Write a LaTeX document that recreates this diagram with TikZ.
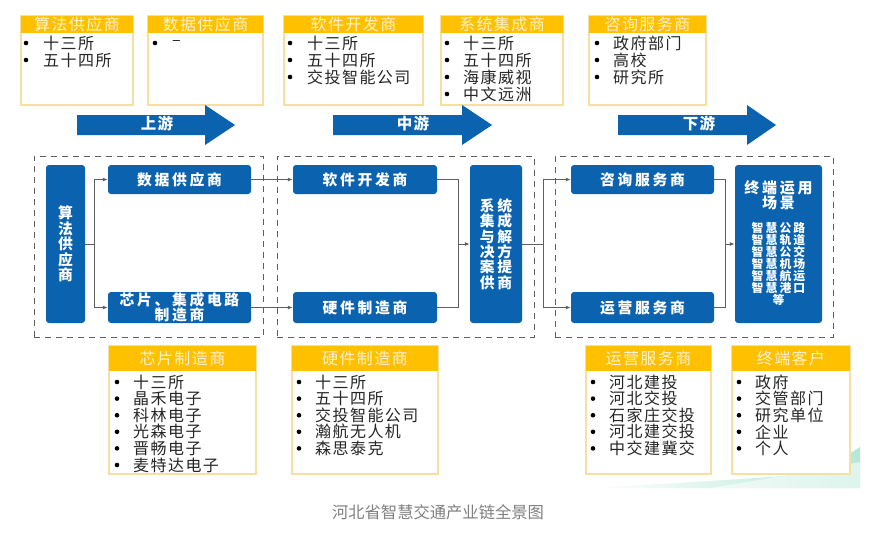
\documentclass[tikz,border=0pt]{standalone}
\usepackage{fontspec}
\usetikzlibrary{arrows.meta}
\setmainfont{Noto Sans CJK SC}
\newfontfamily\cjk[LetterSpace=9]{Noto Sans CJK SC}
\newfontfamily\cjkw[LetterSpace=18]{Noto Sans CJK SC}
\newfontfamily\cjkplain{Noto Sans CJK SC}
\definecolor{bluebox}{HTML}{0B62AE}
\definecolor{goldhead}{HTML}{FFC000}
\definecolor{goldline}{HTML}{F6DFA0}
\definecolor{linegray}{HTML}{5F5F5F}
\definecolor{headtxt}{HTML}{FFF2CC}
\definecolor{wedge}{HTML}{B5E8D6}
\newcommand{\fs}[2]{\fontsize{#1}{#2}\selectfont\lineskiplimit=-30pt\relax}
\tikzset{
  blueb/.style={fill=bluebox,rounded corners=3pt,inner sep=0pt,text=white,align=center,font=\cjkw\bfseries\fs{14.8}{15.4}},
  goldb/.style={draw=goldline,line width=1.5pt,fill=white,inner sep=0pt},
  headb/.style={fill=goldhead,inner sep=0pt,text=headtxt,font=\cjk\fs{16}{16}},
  itemt/.style={anchor=west,inner sep=0pt,text=black!85,font=\cjk\fs{16}{16}},
  dashb/.style={draw=linegray,line width=.9pt,dash pattern=on 6pt off 5pt,inner sep=0pt},
  conn/.style={draw=linegray,line width=1pt},
  arr/.style={conn,-{Latex[length=5pt,width=4pt]}},
  flow/.style={fill=bluebox,draw=none},
  flowt/.style={inner sep=0pt,text=white,font=\cjk\bfseries\fs{15.5}{16}}
}
% name, x1, y1, x2, y2, style, text
\newcommand{\bxn}[7]{\node[#6,minimum width={(#4-#2)*1pt},minimum height={(#5-#3)*1pt}] (#1) at ({(#2+#4)/2},{(#3+#5)/2}) {#7};}
% name,x1,y1,x2,yhead,y2,title
\newcommand{\card}[7]{%
  \bxn{#1}{#2}{#3}{#4}{#6}{goldb}{}
  \bxn{#1h}{#2}{#3}{#4}{#5}{headb}{#7}}
% name,bulletx,textx,y0,pitch,list
\newcommand{\items}[6]{%
  \foreach \t [count=\i from 0] in {#6}{
    \pgfmathsetmacro{\yy}{#4+\i*#5}
    \fill[black] (#2,\yy) circle (2.3pt);
    \node[itemt] (#1i\i) at (#3,\yy) {\t};
  }}
\begin{document}
\begin{tikzpicture}[x=1pt,y=-1pt]
\useasboundingbox (0,0) rectangle (880,535);
\fill[white] (0,0) rectangle (880,535);
% green wedge
\shade[left color=white,right color=wedge]
  (590,488) .. controls (660,484) and (730,480) .. (783,476) .. controls (815,470) and (840,460) .. (860,447) -- (860,488) -- cycle;
\fill[white,opacity=.55] (710,488) -- (783,476) -- (860,462) -- (860,488) -- cycle;
% dashed groups
\bxn{g1}{34}{156}{263}{337}{dashb}{}
\bxn{g2}{277}{156}{534}{337}{dashb}{}
\bxn{g3}{555}{156}{833}{337}{dashb}{}
% top cards
\card{c1}{21}{16}{133}{33}{105}{算法供应商}
\card{c2}{148}{16}{263}{33}{105}{数据供应商}
\card{c3}{284}{16}{423}{33}{105}{软件开发商}
\card{c4}{441}{16}{563}{33}{105}{系统集成商}
\card{c5}{589}{16}{706}{33}{105}{咨询服务商}
\items{c1}{26}{43}{43}{17}{十三所,五十四所}
\items{c2}{155}{172}{43}{17}{–}
\items{c3}{290}{307}{43}{17}{十三所,五十四所,交投智能公司}
\items{c4}{447}{463}{43}{17}{十三所,五十四所,海康威视,中文远洲}
\items{c5}{597}{613}{43}{17}{政府部门,高校,研究所}
% flow arrows
\fill[flow] (77,115) -- (205,115) -- (205,105) -- (235,125) -- (205,145) -- (205,135) -- (77,135) -- cycle;
\node[flowt] (up) at (157,124) {上游};
\fill[flow] (333,115) -- (462,115) -- (462,105) -- (492,125) -- (462,145) -- (462,135) -- (333,135) -- cycle;
\node[flowt] (mid) at (413,124) {中游};
\fill[flow] (618,115) -- (747,115) -- (747,105) -- (776,125) -- (747,145) -- (747,135) -- (618,135) -- cycle;
\node[flowt] (down) at (699,124) {下游};
% blue boxes
\bxn{alg}{46}{165}{85}{323}{blueb}{算\\法\\供\\应\\商}
\bxn{data}{108}{165}{251}{194}{blueb}{数据供应商}
\bxn{chip}{108}{292}{251}{323}{blueb}{芯片、集成电路\\制造商}
\bxn{soft}{293}{165}{437}{194}{blueb}{软件开发商}
\bxn{hard}{293}{292}{437}{323}{blueb}{硬件制造商}
\bxn{sys}{470}{165}{522}{323}{blueb}{系统\\集成\\与解\\决方\\案提\\供商}
\bxn{cons}{571}{165}{714}{194}{blueb}{咨询服务商}
\bxn{oper}{571}{292}{714}{323}{blueb}{运营服务商}
\bxn{term}{735}{165}{822}{323}{blueb}{}
\node[inner sep=0pt,text=white,align=center,font=\cjkw\bfseries\fs{15}{15}] (termt) at (778.5,195.5) {终端运用\\场景};
\node[inner sep=0pt,text=white,align=center,font=\cjkw\bfseries\fs{11.8}{12}] (terml) at (778.5,264) {智慧公路\\智慧轨道\\智慧公交\\智慧机场\\智慧航运\\智慧港口\\等};
% connectors
\coordinate (j1) at (94,244);
\coordinate (j2) at (458,244);
\coordinate (j3) at (543,244);
\coordinate (j4) at (725,244);
\draw[conn] (alg.east |- j1) -- (j1);
\draw[arr] (j1) |- (data.west);
\draw[arr] (j1) |- (chip.west);
\draw[arr] (data.east) -- (soft.west);
\draw[arr] (chip.east) -- (hard.west);
\draw[conn] (soft.east) -| (j2);
\draw[conn] (hard.east) -| (j2);
\draw[arr] (j2) -- (sys.west |- j2);
\draw[conn] (sys.east |- j3) -- (j3);
\draw[arr] (j3) |- (cons.west);
\draw[arr] (j3) |- (oper.west);
\draw[conn] (cons.east) -| (j4);
\draw[conn] (oper.east) -| (j4);
\draw[arr] (j4) -- (term.west |- j4);
% bottom cards
\card{d1}{109}{346}{256}{371}{474}{芯片制造商}
\card{d2}{292}{346}{438}{371}{474}{硬件制造商}
\card{d3}{586}{346}{711}{371}{474}{运营服务商}
\card{d4}{732}{346}{850}{371}{474}{终端客户}
\items{d1}{117}{133}{382}{16.6}{十三所,晶禾电子,科林电子,光森电子,晋畅电子,麦特达电子}
\items{d2}{299}{315}{382}{16.6}{十三所,五十四所,交投智能公司,瀚航无人机,森思泰克}
\items{d3}{593}{609}{382}{16.6}{河北建投,河北交投,石家庄交投,河北建交投,中交建冀交}
\items{d4}{739}{755}{382}{16.6}{政府,交管部门,研究单位,企业,个人}
% caption
\node[inner sep=0pt,text=black!50,font=\cjkplain\fs{16.3}{16}] (cap) at (438,512) {河北省智慧交通产业链全景图};
\end{tikzpicture}
\end{document}
